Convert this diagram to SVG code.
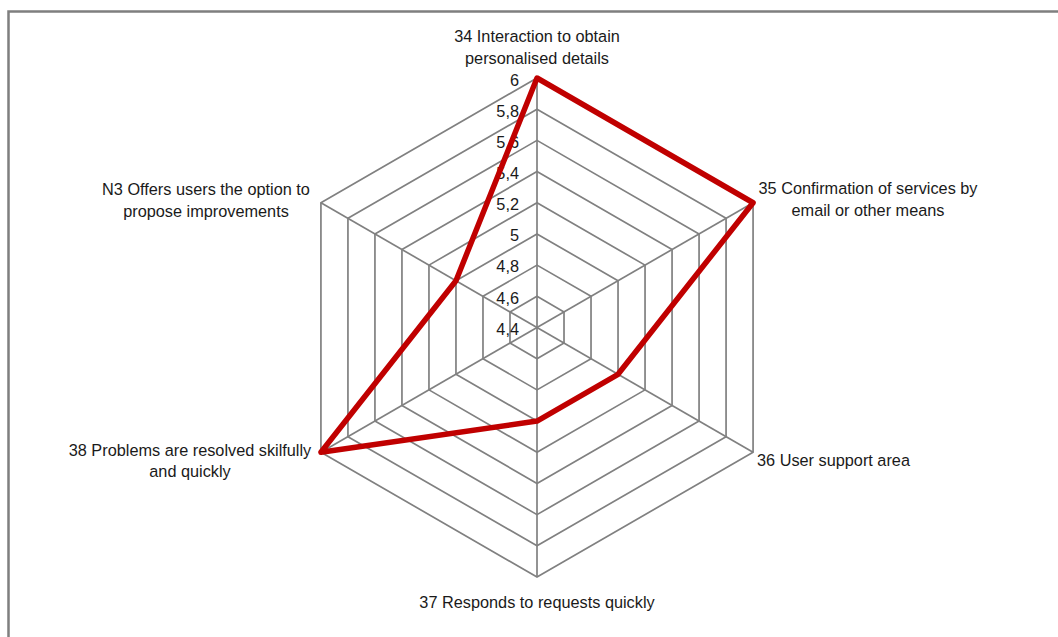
<svg xmlns="http://www.w3.org/2000/svg" width="1058" height="637" viewBox="0 0 1058 637">
<style>
.frame{fill:none;stroke:#7f7f7f;stroke-width:2.5}
.ring{fill:none;stroke:#808080;stroke-width:1.7}
.spoke{stroke:#808080;stroke-width:1.7}
.data{fill:none;stroke:#c00000;stroke-width:5.5;stroke-linejoin:round}
text{font-family:"Liberation Sans",Arial,sans-serif;font-size:16.3px;fill:#1a1a1a}
.lbl{text-anchor:middle}
.tick{text-anchor:end}
</style>
<rect width="1058" height="637" fill="#fff"/>
<path class="frame" d="M8.5,640 V11.5 H1060"/>
<g id="grid">
<polygon class="ring" points="537,296.31 564.01,311.91 564.01,343.09 537,358.69 509.99,343.09 509.99,311.91"/>
<polygon class="ring" points="537,265.13 591.02,296.31 591.02,358.69 537,389.88 482.98,358.69 482.98,296.31"/>
<polygon class="ring" points="537,233.94 618.03,280.72 618.03,374.28 537,421.06 455.97,374.28 455.97,280.72"/>
<polygon class="ring" points="537,202.75 645.04,265.12 645.04,389.88 537,452.25 428.96,389.88 428.96,265.12"/>
<polygon class="ring" points="537,171.56 672.05,249.53 672.05,405.47 537,483.44 401.95,405.47 401.95,249.53"/>
<polygon class="ring" points="537,140.38 699.06,233.94 699.06,421.06 537,514.63 374.94,421.06 374.94,233.94"/>
<polygon class="ring" points="537,109.19 726.06,218.34 726.06,436.66 537,545.81 347.94,436.66 347.94,218.34"/>
<polygon class="ring" points="537,78 753.07,202.75 753.07,452.25 537,577 320.93,452.25 320.93,202.75"/>
<line class="spoke" x1="537" y1="327.5" x2="537" y2="78"/>
<line class="spoke" x1="537" y1="327.5" x2="753.07" y2="202.75"/>
<line class="spoke" x1="537" y1="327.5" x2="753.07" y2="452.25"/>
<line class="spoke" x1="537" y1="327.5" x2="537" y2="577"/>
<line class="spoke" x1="537" y1="327.5" x2="320.93" y2="452.25"/>
<line class="spoke" x1="537" y1="327.5" x2="320.93" y2="202.75"/>
</g>
<g id="ticks">
<text class="tick" x="519" y="85.5">6</text>
<text class="tick" x="519" y="116.5">5,8</text>
<text class="tick" x="519" y="147.5">5,6</text>
<text class="tick" x="519" y="178.5">5,4</text>
<text class="tick" x="519" y="209.5">5,2</text>
<text class="tick" x="519" y="241">5</text>
<text class="tick" x="519" y="272">4,8</text>
<text class="tick" x="519" y="303.5">4,6</text>
<text class="tick" x="519" y="334.5">4,4</text>
</g>
<g id="series">
<polygon class="data" points="537,78 753.07,202.75 618.03,374.28 537,421.06 320.93,452.25 455.97,280.72"/>
</g>
<g id="axis34"><text class="lbl" x="537" y="42">34 Interaction to obtain</text><text class="lbl" x="537" y="63.5">personalised details</text></g>
<g id="axis35"><text class="lbl" x="868" y="193.5">35 Confirmation of services by</text><text class="lbl" x="868" y="215.5">email or other means</text></g>
<g id="axis36"><text x="757" y="465.5">36 User support area</text></g>
<g id="axis37"><text class="lbl" x="537" y="607.5">37 Responds to requests quickly</text></g>
<g id="axis38"><text class="lbl" x="190" y="455.5">38 Problems are resolved skilfully</text><text class="lbl" x="190" y="476.5">and quickly</text></g>
<g id="axisN3"><text class="lbl" x="206" y="194.5">N3 Offers users the option to</text><text class="lbl" x="206" y="216.5">propose improvements</text></g>
</svg>
